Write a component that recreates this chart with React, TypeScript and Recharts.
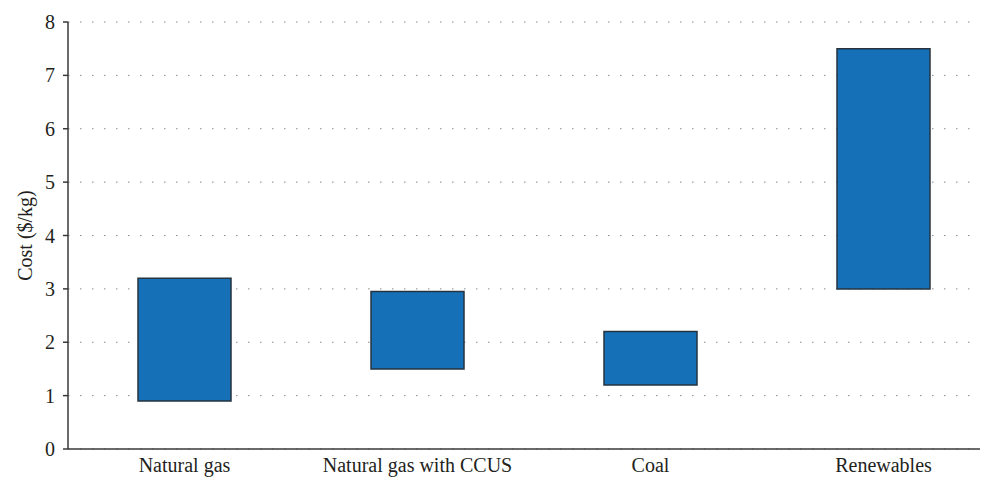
import React from 'react';
import { BarChart, CartesianGrid, XAxis, YAxis, Bar } from 'recharts';

const sources = ['Natural gas', 'Natural gas with CCUS', 'Coal', 'Renewables'];
const lowCost = [0.9, 1.5, 1.2, 3.0];
const highCost = [3.2, 2.95, 2.2, 7.5];
const yTicks = [0, 1, 2, 3, 4, 5, 6, 7, 8];

const data = sources.map((name, i) => ({
    name,
    range: [lowCost[i], highCost[i]],
}));

const textStyle = { fontFamily: '"Liberation Serif", serif', fontSize: 20, fill: '#231f20' };

const App = () => {
    return (
        <div style={{ width: 980, height: 478, overflow: 'hidden' }}>
            <BarChart
                width={1000}
                height={478}
                data={data}
                margin={{ top: 14, right: 8, left: 0, bottom: 7 }}
            >
                <CartesianGrid vertical={false} stroke="#8a8a8a" strokeDasharray="1.5 10.5" />
                <XAxis
                    dataKey="name"
                    height={30}
                    tickLine={false}
                    stroke="#3a3a3a"
                    strokeWidth={1.5}
                    tick={textStyle}
                    tickMargin={3}
                />
                <YAxis
                    width={60}
                    domain={[0, 8]}
                    ticks={yTicks}
                    stroke="#3a3a3a"
                    strokeWidth={1.5}
                    tickSize={5}
                    tickMargin={8}
                    tick={textStyle}
                    label={{
                        value: 'Cost ($/kg)',
                        angle: -90,
                        position: 'insideLeft',
                        offset: 17,
                        style: { ...textStyle, textAnchor: 'middle' },
                    }}
                />
                <Bar
                    dataKey="range"
                    barSize={93}
                    fill="#1570b7"
                    stroke="#263340"
                    strokeWidth={1.5}
                    isAnimationActive={false}
                />
            </BarChart>
        </div>
    );
};

export default App;
